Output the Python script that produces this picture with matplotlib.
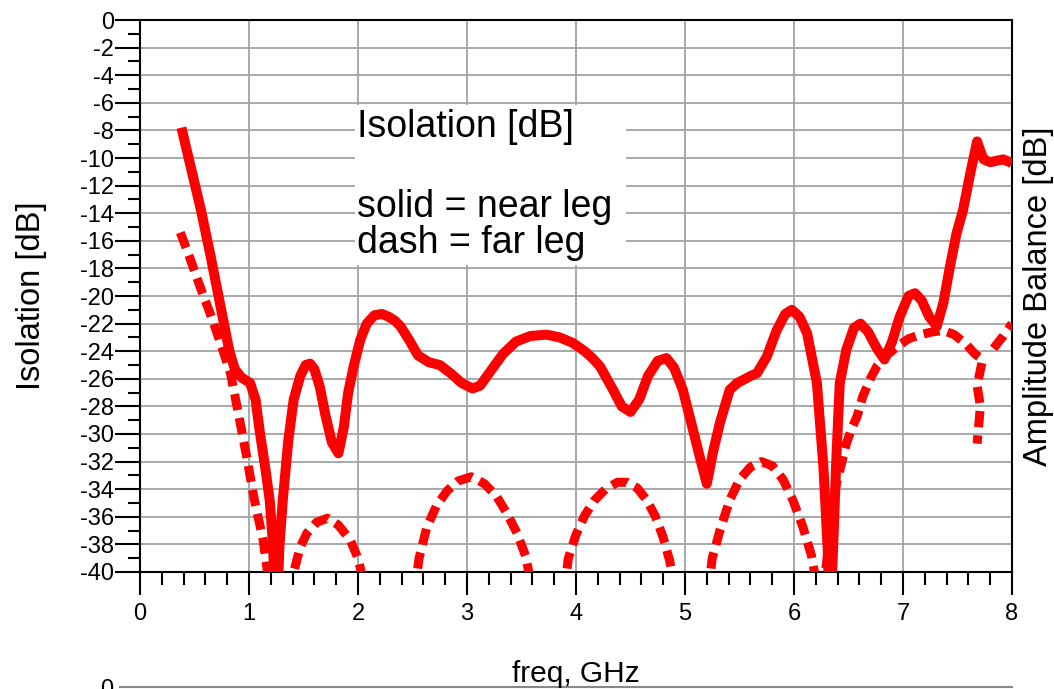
import numpy as np
import matplotlib
matplotlib.use("Agg")
import matplotlib.pyplot as plt
from matplotlib.ticker import MultipleLocator, FormatStrFormatter
from matplotlib.patches import Rectangle
from matplotlib.lines import Line2D

plt.rcParams['font.family'] = ['Liberation Sans', 'DejaVu Sans']
plt.rcParams['axes.unicode_minus'] = False

# near leg (solid), freq in GHz / isolation in dB
near_f = [0.38, 0.47, 0.56, 0.65, 0.74, 0.82, 0.87, 0.93, 1.01, 1.06, 1.10,
          1.15, 1.19, 1.22, 1.25, 1.28, 1.31, 1.36, 1.41, 1.47, 1.52, 1.56, 1.60, 1.65, 1.70,
          1.76, 1.82, 1.87, 1.91, 1.96, 2.02, 2.08, 2.15, 2.22, 2.28, 2.34, 2.39, 2.47, 2.55,
          2.65, 2.75, 2.85, 2.95, 3.05, 3.12, 3.22, 3.33, 3.45, 3.58, 3.73, 3.85,
          3.97, 4.08, 4.15, 4.22, 4.34, 4.42, 4.50, 4.58, 4.66, 4.75, 4.83, 4.90,
          4.98, 5.08, 5.14, 5.20, 5.26, 5.32, 5.41, 5.48, 5.53, 5.60, 5.66, 5.75,
          5.84, 5.92, 5.98, 6.05, 6.12, 6.21, 6.27, 6.31, 6.33, 6.36, 6.39, 6.42,
          6.48, 6.55, 6.61, 6.68, 6.76, 6.83, 6.90, 6.97, 7.05, 7.11, 7.17, 7.24,
          7.31, 7.37, 7.43, 7.49, 7.55, 7.62, 7.68, 7.71, 7.74, 7.80, 7.86, 7.92,
          7.98, 8.00]
near_db = [-7.8, -10.8, -13.8, -17.2, -20.8, -24.0, -25.3, -25.9, -26.3, -27.5, -29.9,
           -32.5, -34.8, -38.0, -44.0, -38.0, -34.8, -30.5, -27.5, -25.8, -25.0, -24.9, -25.3, -26.6, -28.6,
           -30.6, -31.4, -29.5, -27.0, -25.1, -23.2, -22.0, -21.4, -21.3, -21.5, -21.8, -22.2, -23.2, -24.3,
           -24.8, -25.0, -25.6, -26.3, -26.7, -26.5, -25.4, -24.2, -23.3, -22.9, -22.8, -23.0,
           -23.4, -24.0, -24.5, -25.1, -26.8, -28.0, -28.4, -27.5, -25.8, -24.7, -24.5, -25.2,
           -26.8, -29.9, -31.8, -33.6, -31.2, -29.2, -26.8, -26.3, -26.1, -25.8, -25.6, -24.4,
           -22.5, -21.3, -21.0, -21.5, -22.7, -26.3, -32.4, -38.5, -44.0, -38.0, -31.5, -26.3,
           -23.9, -22.3, -22.0, -22.6, -23.8, -24.6, -23.3, -21.5, -20.0, -19.8, -20.3, -21.5,
           -22.2, -20.5, -17.9, -15.5, -13.8, -11.0, -8.8, -9.5, -10.1, -10.3, -10.2, -10.1,
           -10.3, -10.4]

# far leg (dashed); nan breaks where the trace drops below -40 dB
far_f = [0.37, 0.46, 0.55, 0.64, 0.73, 0.83, 0.89, 0.98, 1.05, 1.13, 1.17, 1.19, np.nan,
         1.38, 1.41, 1.47, 1.53, 1.62, 1.72, 1.82, 1.93, 2.00, 2.06, np.nan,
         2.52, 2.56, 2.63, 2.72, 2.82, 2.92, 3.04, 3.16, 3.27, 3.37, 3.46, 3.54, 3.59, np.nan,
         3.89, 3.93, 4.00, 4.08, 4.17, 4.27, 4.38, 4.47, 4.56, 4.65, 4.73, 4.80, 4.86, 4.90, np.nan,
         5.21, 5.25, 5.32, 5.41, 5.50, 5.60, 5.70, 5.80, 5.90, 5.99, 6.08, 6.16, 6.21, np.nan,
         6.27, 6.31, 6.35, 6.39, 6.44, 6.48, 6.53, 6.58, 6.63, 6.70, 6.76, 6.85, 6.94, 7.05,
         7.16, 7.27, 7.37, 7.47, 7.58, 7.66, 7.73, 7.68, 7.71, 7.68, np.nan,
         7.83, 7.92, 8.00]
far_db = [-15.4, -17.3, -19.3, -21.2, -23.2, -25.6, -28.0, -31.7, -34.8, -37.7, -40.0, -41.5, np.nan,
          -41.5, -40.0, -38.2, -37.2, -36.4, -36.1, -36.6, -37.7, -39.0, -41.0, np.nan,
          -41.5, -39.0, -36.8, -35.2, -34.1, -33.4, -33.1, -33.6, -34.5, -35.8, -37.2, -38.9, -41.0, np.nan,
          -41.5, -39.0, -37.3, -35.9, -34.8, -34.0, -33.5, -33.5, -33.9, -34.8, -36.0, -37.5, -39.2, -41.0, np.nan,
          -41.5, -39.0, -37.0, -34.8, -33.3, -32.4, -32.0, -32.3, -33.3, -34.8, -36.7, -38.8, -41.0, np.nan,
          -41.5, -38.5, -35.3, -33.6, -32.0, -30.7, -29.6, -28.7, -27.3, -26.0, -25.1, -24.3, -23.7, -23.1,
          -22.8, -22.6, -22.5, -22.8, -23.5, -24.2, -24.6, -26.5, -28.0, -30.7, np.nan,
          -23.8, -22.9, -22.0]

x_ticks = [0, 1, 2, 3, 4, 5, 6, 7, 8]
y_ticks = list(range(0, -42, -2))

W, H = 1054, 689
fig = plt.figure(figsize=(W / 100, H / 100), dpi=100)
ax = fig.add_axes([140 / W, (H - 572) / H, 872 / W, 552 / H])

red = '#ff0000'
ax.plot(near_f, near_db, color=red, lw=7.2, solid_capstyle='butt', solid_joinstyle='round', zorder=3)
ax.plot(far_f, far_db, color=red, lw=6.5, linestyle=(0, (1.8, 0.9)), dash_capstyle='butt', zorder=3)

ax.set_xlim(0, 8)
ax.set_ylim(-40, 0)
ax.set_xticks(x_ticks)
ax.set_yticks(y_ticks)
ax.xaxis.set_minor_locator(MultipleLocator(0.2))
ax.yaxis.set_minor_locator(MultipleLocator(1))
ax.yaxis.set_major_formatter(FormatStrFormatter('%d'))

ax.set_axisbelow(True)
ax.grid(True, which='major', color='#a3a3a3', lw=1.3)
for s in ax.spines.values():
    s.set_linewidth(1.5)
    s.set_color('black')

ax.tick_params(axis='y', which='major', direction='out', length=18, width=1.5, pad=0.5, labelsize=17)
ax.tick_params(axis='y', which='minor', direction='out', length=8.6, width=1.5)
ax.tick_params(axis='x', which='major', direction='out', length=16.5, width=1.5, pad=6, labelsize=17)
ax.tick_params(axis='x', which='minor', direction='out', length=9.4, width=1.5)

# white note box in the plot area
ax.add_patch(Rectangle((0.2466, 0.556), 0.3104, 0.29, transform=ax.transAxes,
                       facecolor='white', edgecolor='none', zorder=1.5))
ax.text(0.249, 0.788, 'Isolation [dB]', transform=ax.transAxes, fontsize=27, va='baseline', zorder=4)
ax.text(0.249, 0.643, 'solid = near leg', transform=ax.transAxes, fontsize=27, va='baseline', zorder=4)
ax.text(0.249, 0.578, 'dash = far leg', transform=ax.transAxes, fontsize=27, va='baseline', zorder=4)

fig.text(32 / W, 1 - 296 / H, 'Isolation [dB]', rotation=90, ha='center', va='center', fontsize=23.5)
fig.text(1023 / W, 1 - 296 / H, 'Amplitude Balance [dB]', rotation=90, ha='left', va='center', fontsize=23.5)
fig.text(576 / W, 1 - 682 / H, 'freq, GHz', ha='center', va='baseline', fontsize=21.5)

# top edge of the next panel below
fig.add_artist(Line2D([120 / W, 1012 / W], [1 - 687 / H] * 2, color='#888888', lw=1.5,
                      transform=fig.transFigure))
fig.text(107 / W, 1 - 679 / H, '0', ha='center', va='top', fontsize=17)

fig.savefig('out.png', dpi=100)
